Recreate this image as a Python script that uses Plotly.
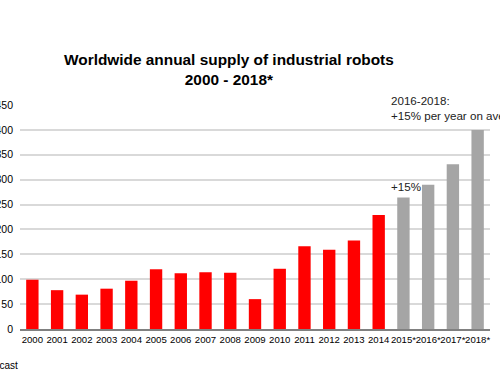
import plotly.graph_objects as go

years = ["2000", "2001", "2002", "2003", "2004", "2005", "2006", "2007", "2008",
         "2009", "2010", "2011", "2012", "2013", "2014",
         "2015*", "2016*", "2017*", "2018*"]
supply = [99, 78, 69, 81, 97, 120, 112, 114, 113,
          60, 121, 166, 159, 178, 229,
          264, 290, 331, 400]
y_ticks = [0, 50, 100, 150, 200, 250, 300, 350, 400, 450]

colors = ["#a5a5a5" if y.endswith("*") else "#ff0000" for y in years]

fig = go.Figure()
fig.add_trace(go.Bar(
    x=years, y=supply,
    marker=dict(color=colors, line=dict(width=0)),
    showlegend=False,
))

fig.update_layout(
    width=500, height=375,
    margin=dict(l=20, r=10, t=105, b=46, autoexpand=False),
    paper_bgcolor="white", plot_bgcolor="white",
    bargap=0.5,
    font=dict(family="Liberation Sans, Arial, sans-serif", size=10, color="#000000"),
    xaxis=dict(type="category", showgrid=False, showline=True, linecolor="#808080",
               linewidth=2, ticks="", tickfont=dict(size=9.6), tickangle=0,
               automargin=False),
    yaxis=dict(range=[0, 450], tickvals=y_ticks, showgrid=True, gridcolor="#d9d9d9",
               gridwidth=1.5, zeroline=False, showline=False, ticks="",
               tickfont=dict(size=10.5), automargin=False, ticklabelstandoff=6),
    annotations=[
        dict(text="<b>Worldwide annual supply of industrial robots<br>2000 - 2018*</b>",
             xref="paper", yref="paper", x=(229 - 20) / 470, y=1.067,
             xanchor="center", yanchor="bottom", showarrow=False,
             font=dict(size=15.4, color="#000000")),
        dict(text="2016-2018:<br>+15% per year on average",
             xref="paper", yref="paper", x=(389 - 20) / 470, y=0.915,
             xanchor="left", yanchor="bottom", showarrow=False, align="left",
             font=dict(size=11.6, color="#222222")),
        dict(text="+15%", xref="paper", yref="y", x=(389 - 20) / 470, y=269,
             xanchor="left", yanchor="bottom", showarrow=False,
             font=dict(size=11.6, color="#222222")),
        dict(text="*Forecast", xref="paper", yref="paper", x=0, y=-0.162,
             xanchor="right", yanchor="middle", showarrow=False,
             font=dict(size=10, color="#000000")),
    ],
)

fig.write_html("out.html", config={"displayModeBar": False},
               post_script="document.body.style.margin='0';")
